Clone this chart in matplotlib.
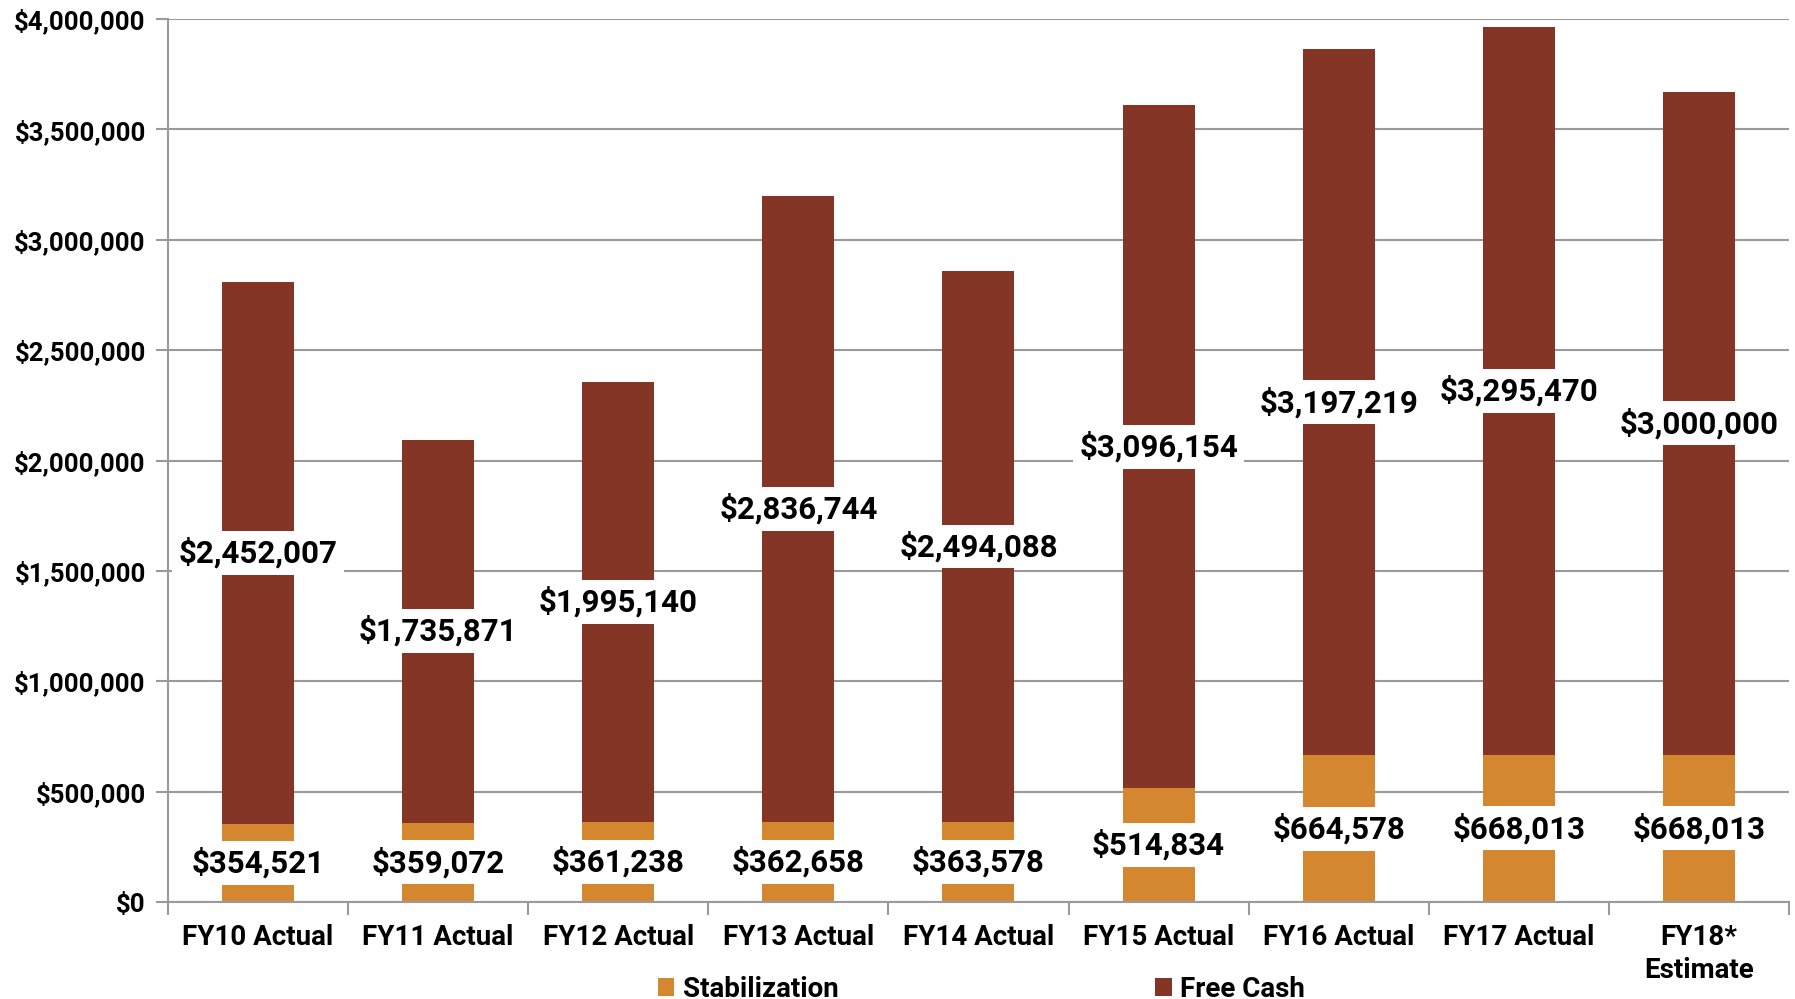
import matplotlib.pyplot as plt
import numpy as np
from matplotlib.ticker import FuncFormatter, MultipleLocator

categories = ['FY10 Actual', 'FY11 Actual', 'FY12 Actual', 'FY13 Actual', 'FY14 Actual',
              'FY15 Actual', 'FY16 Actual', 'FY17 Actual', 'FY18*\nEstimate']
stabilization = [354521, 359072, 361238, 362658, 363578, 514834, 664578, 668013, 668013]
free_cash = [2452007, 1735871, 1995140, 2836744, 2494088, 3096154, 3197219, 3295470, 3000000]

STAB_COLOR = '#D58730'
FREE_COLOR = '#843526'
GRID_COLOR = '#9a9a9a'

plt.rcParams['font.family'] = ['Roboto', 'DejaVu Sans']
plt.rcParams['font.weight'] = 'bold'

fig = plt.figure(figsize=(17.95, 9.99), dpi=100)
ax = fig.add_axes([0.0936, 0.097, 0.903, 0.884])

x = np.arange(len(categories))
width = 0.4
b1 = ax.bar(x, stabilization, width, color=STAB_COLOR, label='Stabilization', zorder=2)
b2 = ax.bar(x, free_cash, width, bottom=stabilization, color=FREE_COLOR, label='Free Cash', zorder=2)

# value labels sit in the middle of each segment on a white box
box = dict(boxstyle='square,pad=0.2', facecolor='white', edgecolor='none')
for i in range(len(categories)):
    ax.text(x[i], stabilization[i] / 2, f'${stabilization[i]:,}', ha='center', va='center',
            fontsize=22.5, fontweight='bold', bbox=box, zorder=3)
    ax.text(x[i], stabilization[i] + free_cash[i] / 2, f'${free_cash[i]:,}', ha='center',
            va='center', fontsize=22.5, fontweight='bold', bbox=box, zorder=3)

ax.set_xlim(-0.5, len(categories) - 0.5)
ax.set_ylim(0, 4000000)
ax.yaxis.set_major_locator(MultipleLocator(500000))
ax.yaxis.set_major_formatter(FuncFormatter(lambda v, _: f'${v:,.0f}'))
ax.grid(axis='y', color=GRID_COLOR, linewidth=1.5, zorder=0)
ax.set_axisbelow(True)

ax.set_xticks(x)
ax.set_xticklabels(categories, fontsize=20, fontweight='bold', linespacing=1.25)
ax.set_xticks(np.arange(-0.5, len(categories)), minor=True)
ax.tick_params(axis='x', which='major', length=0, pad=16)
ax.tick_params(axis='x', which='minor', length=9, width=1.5, color=GRID_COLOR)
ax.tick_params(axis='y', length=9, width=1.5, color=GRID_COLOR, labelsize=18.5, pad=7)
for lbl in ax.get_yticklabels():
    lbl.set_fontweight('bold')

for s in ['top', 'right']:
    ax.spines[s].set_visible(False)
for s in ['left', 'bottom']:
    ax.spines[s].set_color(GRID_COLOR)
    ax.spines[s].set_linewidth(1.5)

fig.legend(handles=[b1, b2], loc='center', bbox_to_anchor=(0.5466, 0.01), ncol=2,
           frameon=False, fontsize=20, handlelength=0.6, handleheight=0.6,
           handletextpad=0.3, columnspacing=11.4)

fig.savefig('out.png', dpi=100)
